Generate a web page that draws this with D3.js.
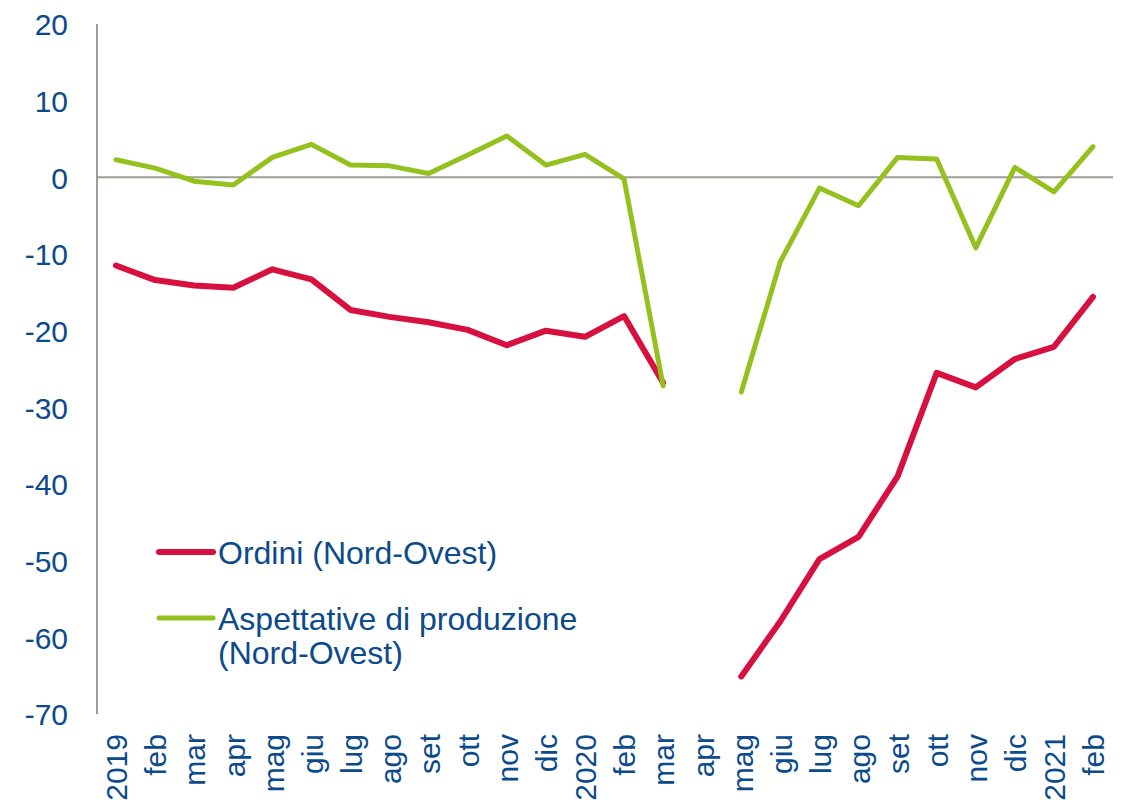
<!DOCTYPE html>
<html>
<head>
<meta charset="utf-8">
<script src="https://cdn.jsdelivr.net/npm/d3@7"></script>
<style>
  html, body { margin: 0; padding: 0; background: #fff; }
  svg { display: block; }
  text { font-family: "Liberation Sans", Arial, sans-serif; fill: #0B4A8B; }
</style>
</head>
<body>
<svg id="chart" width="1127" height="806"></svg>
<script>
const xLabels = ["2019","feb","mar","apr","mag","giu","lug","ago","set","ott","nov","dic",
                 "2020","feb","mar","apr","mag","giu","lug","ago","set","ott","nov","dic","2021","feb"];
const yTicks = [20, 10, 0, -10, -20, -30, -40, -50, -60, -70];
const ordini = [-11.5, -13.4, -14.1, -14.4, -12.0, -13.3, -17.3, -18.2, -18.9, -19.9, -21.9, -20.0, -20.8,
                -18.1, -26.8, null, -65.1, -57.9, -49.8, -46.9, -39.0, -25.5, -27.4, -23.7, -22.1, -15.6];
const aspettative = [2.3, 1.2, -0.5, -1.0, 2.6, 4.3, 1.6, 1.5, 0.5, 2.9, 5.4, 1.6, 3.0,
                     -0.2, -27.2, null, -28.0, -11.0, -1.4, -3.7, 2.6, 2.4, -9.2, 1.3, -1.9, 4.0];
const seriesNames = ["Ordini (Nord-Ovest)", ["Aspettative di produzione", "(Nord-Ovest)"]];

const svg = d3.select("#chart");
const idx = d3.range(xLabels.length);
const x = d3.scalePoint().domain(idx).range([116, 1093]);
const y = d3.scaleLinear().domain([-70, 20]).range([714, 24]);

const red = "#D6103F", green = "#95C11F", grid = "#9D9D95";
const fs = 30, lfs = 32;

// Y axis (labels only via d3.axisLeft)
const yAxis = svg.append("g").attr("transform", "translate(68,0)")
  .call(d3.axisLeft(y).tickValues(yTicks).tickSize(0).tickPadding(0).tickFormat(d => String(d)));
yAxis.select(".domain").remove();
yAxis.selectAll("text").attr("font-size", fs).attr("font-family", "Liberation Sans, Arial, sans-serif")
  .attr("fill", "#0B4A8B").attr("dy", "0.36em").attr("x", 0).attr("text-anchor", "end");

// vertical axis line
svg.append("line").attr("x1", 97).attr("x2", 97).attr("y1", y(20)).attr("y2", y(-70))
  .attr("stroke", grid).attr("stroke-width", 2);
// zero line
svg.append("line").attr("x1", 97).attr("x2", 1113).attr("y1", y(0)).attr("y2", y(0))
  .attr("stroke", grid).attr("stroke-width", 2);

// X axis labels
const xAxis = svg.append("g").attr("transform", "translate(0,734)")
  .call(d3.axisBottom(x).tickSize(0).tickPadding(0).tickFormat(i => xLabels[i]));
xAxis.select(".domain").remove();
xAxis.selectAll("text")
  .attr("font-size", fs).attr("font-family", "Liberation Sans, Arial, sans-serif").attr("fill", "#0B4A8B")
  .attr("text-anchor", "end").attr("y", 0).attr("x", 0).attr("dy", "0.36em")
  .attr("transform", "rotate(-90)");

// lines
const line = d3.line().defined(d => d != null).x((d, i) => x(i)).y(d => y(d));
svg.append("path").datum(ordini).attr("d", line).attr("fill", "none")
  .attr("stroke", red).attr("stroke-width", 6).attr("stroke-linecap", "round").attr("stroke-linejoin", "round");
svg.append("path").datum(aspettative).attr("d", line).attr("fill", "none")
  .attr("stroke", green).attr("stroke-width", 5).attr("stroke-linecap", "round").attr("stroke-linejoin", "round");

// legend
const lg = svg.append("g");
lg.append("line").attr("x1", 159).attr("x2", 213).attr("y1", 552).attr("y2", 552)
  .attr("stroke", red).attr("stroke-width", 6).attr("stroke-linecap", "round");
lg.append("text").attr("x", 218).attr("y", 564).attr("font-size", lfs).text(seriesNames[0]);
lg.append("line").attr("x1", 159).attr("x2", 213).attr("y1", 618).attr("y2", 618)
  .attr("stroke", green).attr("stroke-width", 5).attr("stroke-linecap", "round");
const t2 = lg.append("text").attr("x", 218).attr("y", 630).attr("font-size", lfs);
t2.append("tspan").attr("x", 218).text(seriesNames[1][0]);
t2.append("tspan").attr("x", 218).attr("dy", 34).text(seriesNames[1][1]);
</script>
</body>
</html>
